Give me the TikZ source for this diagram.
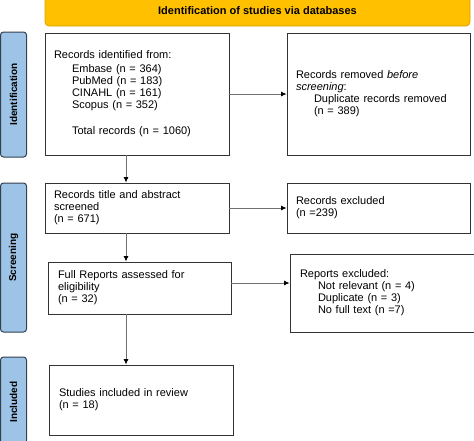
\documentclass[tikz,border=0pt]{standalone}
\usepackage{fontspec}
\setmainfont{Liberation Sans}
\usetikzlibrary{arrows.meta}
\definecolor{gold}{HTML}{FFC000}
\definecolor{goldline}{HTML}{D9A300}
\definecolor{sideblue}{HTML}{9DC3E6}
\definecolor{sideline}{HTML}{34404E}
\definecolor{arrgray}{HTML}{707070}
\tikzset{
  box/.style={draw=black!80, line width=0.9pt, fill=white, align=left, inner xsep=9pt,
    font=\fontsize{11}{12}\selectfont},
  side/.style={draw=sideline, line width=1pt, fill=sideblue, rounded corners=3pt,
    font=\bfseries\fontsize{10}{11}\selectfont, rotate=90, inner sep=0pt},
  banner/.style={draw=goldline, line width=0.8pt, fill=gold, rounded corners=4pt,
    font=\bfseries\fontsize{11}{12}\selectfont, inner sep=0pt},
  arr/.style={draw=arrgray, line width=0.8pt, -{Latex[length=5.5pt,width=5pt,color=black]}},
}
\newcommand{\ind}{\hspace*{18pt}}
\begin{document}
\begin{tikzpicture}[x=1pt,y=-1pt]
\useasboundingbox (0,0) rectangle (474,440);
% banner
\node[banner, minimum width=425pt, minimum height=30pt] (ban) at (257.5,11) {\raisebox{-2.5pt}{Identification of studies via databases}};
% side bars
\node[side, minimum width=125pt, minimum height=26pt] (sid) at (13.5,94.5) {Identification};
\node[side, minimum width=149pt, minimum height=26pt] (ssc) at (13.5,257.5) {Screening};
\node[side, minimum width=90pt, minimum height=26pt] (sin) at (13.5,402) {Included};
% boxes
\node[box, minimum width=184pt, minimum height=122pt, text width=166pt] (b1) at (137,94)
 {Records identified from:\\[2pt]
  \ind Embase (n = 364)\\
  \ind PubMed (n = 183)\\
  \ind CINAHL (n = 161)\\
  \ind Scopus (n = 352)\\[14pt]
  \ind Total records (n = 1060)};
\node[box, minimum width=183pt, minimum height=122pt, text width=165pt] (b2) at (378.5,94)
 {Records removed \emph{before}\\
  \emph{screening}:\\
  \ind Duplicate records removed\\
  \ind (n = 389)};
\node[box, minimum width=184pt, minimum height=50pt, text width=166pt] (b3) at (137,208)
 {Records title and abstract\\ screened\\ (n = 671)};
\node[box, minimum width=183pt, minimum height=50pt, text width=165pt] (b4) at (378.5,208)
 {Records excluded\\ (n =239)};
\node[box, minimum width=183pt, minimum height=52pt, text width=163pt, inner xsep=10pt] (b5) at (139.5,288)
 {Full Reports assessed for\\ eligibility\\ (n = 32)};
\node[box, minimum width=190pt, minimum height=78pt, text width=170pt, inner xsep=10pt] (b6) at (385,293)
 {Reports excluded:\\
  \ind Not relevant (n = 4)\\
  \ind Duplicate (n = 3)\\
  \ind No full text (n =7)};
\node[box, minimum width=184pt, minimum height=70pt, text width=164pt, inner xsep=10pt] (b7) at (141,400)
 {Studies included in review\\ (n = 18)};
% arrows
\draw[arr] (b1) -- (b2);
\draw[arr] (b3) -- (b4);
\draw[arr] ([yshift=5pt]b5.east) -- ([yshift=5pt]b5.east -| b6.west);
\draw[arr] ([xshift=-11pt]b1.south) -- ([xshift=-11pt]b1.south |- b3.north);
\draw[arr] ([xshift=-11pt]b3.south) -- ([xshift=-11pt]b3.south |- b5.north);
\draw[arr] ([xshift=-13.5pt]b5.south) -- ([xshift=-13.5pt]b5.south |- b7.north);
\end{tikzpicture}
\end{document}
